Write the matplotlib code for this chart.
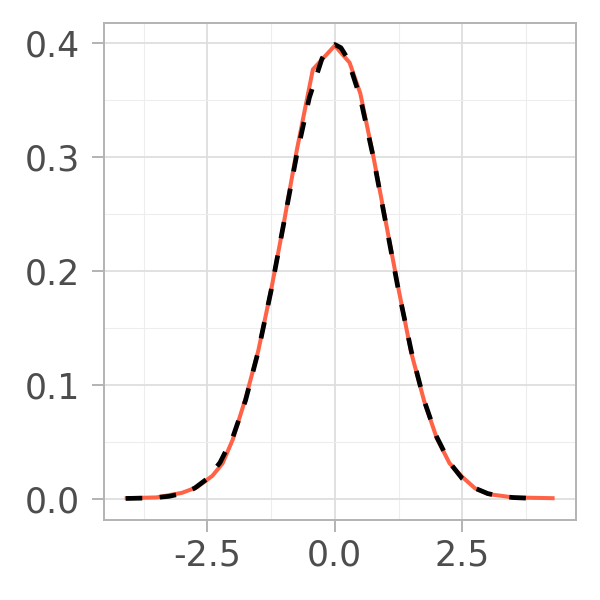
import numpy as np
import matplotlib.pyplot as plt

emp_x = [-4.12, -3.5, -3.0, -2.7, -2.4, -2.2, -2.0, -1.75, -1.5, -1.25, -1.0, -0.75,
         -0.43, 0.0, 0.29, 0.5, 0.75, 1.0, 1.25, 1.5, 1.75, 2.0, 2.25, 2.5, 2.75,
         3.0, 3.5, 4.31]
emp_y = [0.0003, 0.001, 0.005, 0.010, 0.020, 0.031, 0.052, 0.088, 0.130, 0.183, 0.242,
         0.305, 0.377, 0.398, 0.383, 0.356, 0.302, 0.243, 0.184, 0.128, 0.086, 0.053,
         0.031, 0.019, 0.009, 0.004, 0.001, 0.0003]

# reference normal curve (black dashed)
ref_x = [-4.1, -3.75, -3.5, -3.25, -3.0, -2.75, -2.5, -2.25, -2.0, -1.75, -1.5, -1.25,
         -1.0, -0.75, -0.5, -0.25, -0.12, 0.0, 0.12, 0.25, 0.5, 0.75, 1.0, 1.25, 1.5,
         1.75, 2.0, 2.25, 2.5, 2.75, 3.0, 3.25, 3.5, 3.75, 4.0]
ref_y = [0.0001, 0.0004, 0.0009, 0.0020, 0.0044, 0.0091, 0.0175, 0.0317, 0.0540,
         0.0863, 0.1295, 0.1826, 0.2420, 0.3011, 0.3521, 0.3867, 0.3961, 0.3989,
         0.3961, 0.3867, 0.3521, 0.3011, 0.2420, 0.1826, 0.1295, 0.0863, 0.0540,
         0.0317, 0.0175, 0.0091, 0.0044, 0.0020, 0.0009, 0.0004, 0.0001]

x_major = [-2.5, 0.0, 2.5]
x_labels = ['-2.5', '0.0', '2.5']
y_major = [0.0, 0.1, 0.2, 0.3, 0.4]
y_labels = ['0.0', '0.1', '0.2', '0.3', '0.4']

fig = plt.figure(figsize=(6, 6), dpi=100)
ax = fig.add_axes([0.173, 0.133, 0.787, 0.829])

ax.plot(emp_x, emp_y, color='#ff6347', lw=2.9, solid_capstyle='butt', zorder=3)
ax.plot(ref_x, ref_y, color='black', lw=3.4, ls=(0, (3.5, 3.7)), zorder=4)

ax.set_xlim(-4.53, 4.73)
ax.set_ylim(-0.019, 0.418)

ax.set_xticks(x_major)
ax.set_xticklabels(x_labels)
ax.set_yticks(y_major)
ax.set_yticklabels(y_labels)
ax.set_xticks([-3.75, -1.25, 1.25, 3.75], minor=True)
ax.set_yticks([0.05, 0.15, 0.25, 0.35], minor=True)

ax.grid(which='major', color='#dedede', lw=1.3, zorder=0)
ax.grid(which='minor', color='#ededed', lw=0.8, zorder=0)
ax.set_axisbelow(True)

for s in ax.spines.values():
    s.set_color('#b3b3b3')
    s.set_linewidth(1.4)

ax.tick_params(which='major', length=8.5, width=1.4, color='#b3b3b3',
               labelcolor='#4d4d4d', labelsize=25, pad=5)
ax.tick_params(axis='y', which='major', pad=8.5)
ax.tick_params(which='minor', length=0)

fig.savefig('out.png', dpi=100)
